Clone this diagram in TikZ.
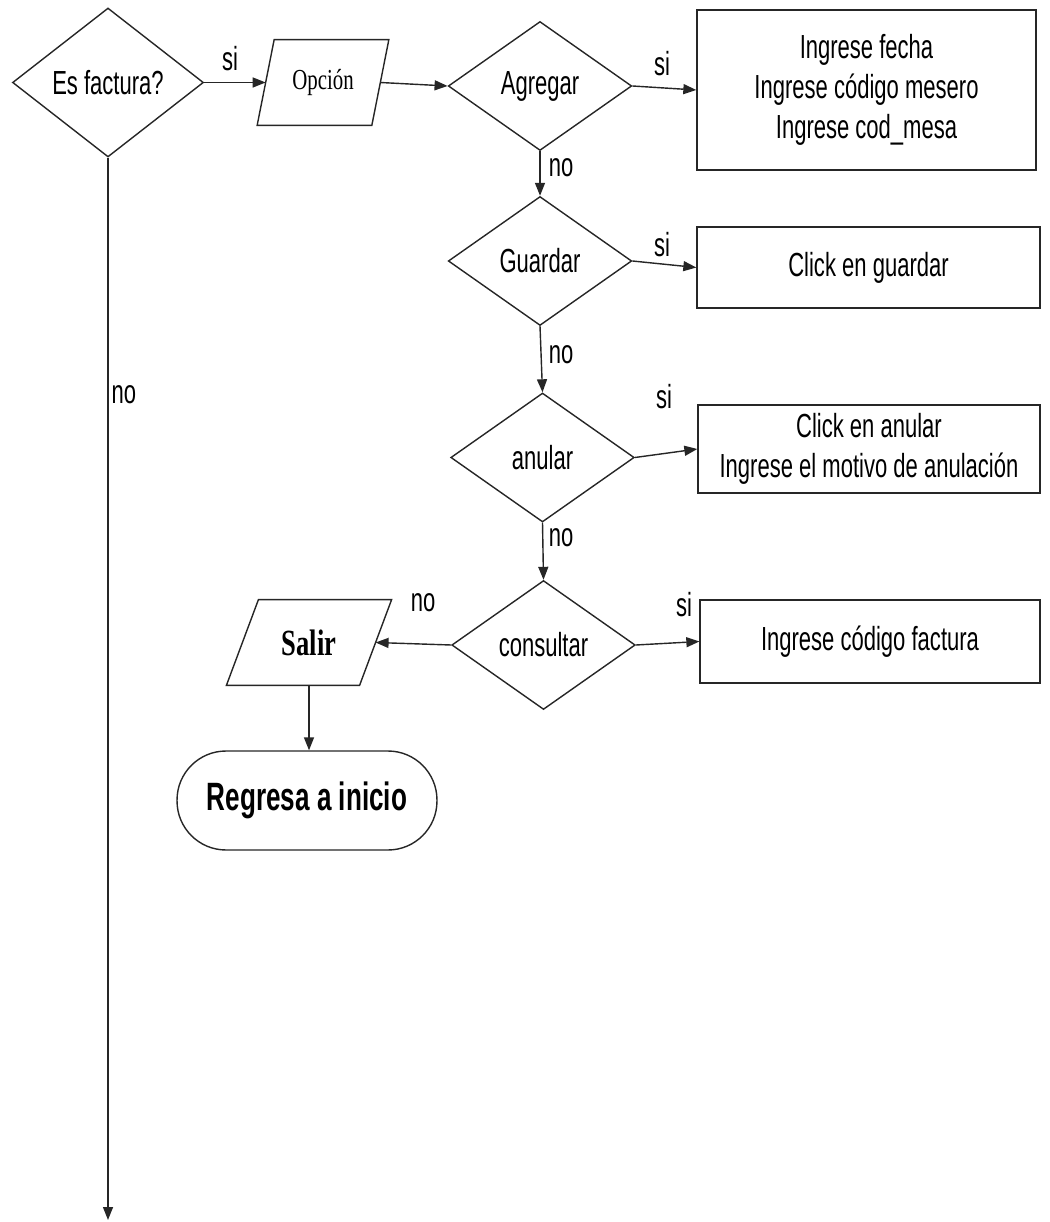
\documentclass[tikz,border=0pt]{standalone}
\usepackage{fontspec}
\setmainfont[FakeStretch=0.66]{Liberation Sans}
\newfontfamily\serifn[FakeStretch=0.72]{Liberation Serif}
\usetikzlibrary{shapes.geometric,arrows.meta,calc}
\tikzset{
  x=0.02cm, y=-0.02cm,
  every node/.style={font=\fontsize{19}{22.7}\selectfont, text=black},
  lineclr/.style={draw=black!85, line width=0.8pt},
  decision/.style={lineclr, diamond, aspect=1.43, inner sep=0pt, minimum width=3.67cm, minimum height=2.58cm},
  procbox/.style={lineclr, rectangle, inner sep=2pt, align=center},
  iobox/.style={rectangle, inner sep=0pt},
  terminal/.style={lineclr, rectangle, rounded corners=0.98cm, minimum width=5.2cm, minimum height=1.98cm, inner sep=0pt},
  flow/.style={lineclr, -{Triangle[length=0.26cm,width=0.2cm]}},
  lbl/.style={inner sep=0pt}
}
\begin{document}
\begin{tikzpicture}
\useasboundingbox (0,0) rectangle (1049,1222);

% decisions
\node[decision, minimum width=3.82cm, minimum height=2.98cm] (es) at (108,82.5) {Es factura?};
\node[decision] (ag) at (540,86) {Agregar};
\node[decision] (gu) at (540,261) {Guardar};
\node[decision] (an) at (542.5,457.5) {anular};
\node[decision] (co) at (543.5,645) {consultar};

% input/output parallelograms
\node[iobox, minimum width=2.28cm, minimum height=1.70cm, font=\serifn\fontsize{16.5}{19}\selectfont] (op) at (323,82.5) {Opción};
\draw[lineclr] ($(op.north west)+(8.5,0)$) -- ($(op.north east)+(8.5,0)$) -- ($(op.south east)+(-8.5,0)$) -- ($(op.south west)+(-8.5,0)$) -- cycle;
\node[iobox, minimum width=2.65cm, minimum height=1.70cm, font=\serifn\bfseries\fontsize{21}{24}\selectfont] (sa) at (309,642.5) {Salir};
\draw[lineclr] ($(sa.north west)+(16,0)$) -- ($(sa.north east)+(16,0)$) -- ($(sa.south east)+(-16,0)$) -- ($(sa.south west)+(-16,0)$) -- cycle;

% process boxes
\node[procbox, minimum width=6.78cm, minimum height=3.2cm] (b1) at (866.5,90) {Ingrese fecha\\Ingrese código mesero\\Ingrese cod\_mesa};
\node[procbox, minimum width=6.86cm, minimum height=1.62cm] (b2) at (868.5,267.5) {Click en guardar};
\node[procbox, minimum width=6.84cm, minimum height=1.76cm] (b3) at (869,449) {Click en anular\\Ingrese el motivo de anulación};
\node[procbox, minimum width=6.80cm, minimum height=1.66cm] (b4) at (870,641.5) {Ingrese código factura};

% terminal
\node[terminal, font=\bfseries\fontsize{22.5}{26}\selectfont] (re) at (307,800.5) {Regresa a inicio};

\coordinate (endno) at (108,1220);

% connectors
\draw[flow] (es.east) -- (op.west);
\draw[flow] (op.east) -- (ag.west);
\draw[flow] (ag.east) -- (b1.west);
\draw[flow] (ag.south) -- (gu.north);
\draw[flow] (gu.east) -- (b2.west);
\draw[flow] (gu.south) -- (an.north);
\draw[flow] (an.east) -- (b3.west);
\draw[flow] (an.south) -- (co.north);
\draw[flow] (co.east) -- (b4.west);
\draw[flow] (co.west) -- (sa.east);
\draw[flow] (sa.south) -- (sa.south |- re.north);
\draw[flow] (es.south) -- (endno);

% labels
\node[lbl] (l1) at (230,59) {si};
\node[lbl] (l2) at (662,64) {si};
\node[lbl] (l3) at (561,168) {no};
\node[lbl] (l4) at (662,245) {si};
\node[lbl] (l5) at (561,355) {no};
\node[lbl] (l6) at (664,397) {si};
\node[lbl] (l7) at (561,538) {no};
\node[lbl] (l8) at (684,605) {si};
\node[lbl] (l9) at (423,603) {no};
\node[lbl] (l10) at (124,395) {no};
\end{tikzpicture}
\end{document}
